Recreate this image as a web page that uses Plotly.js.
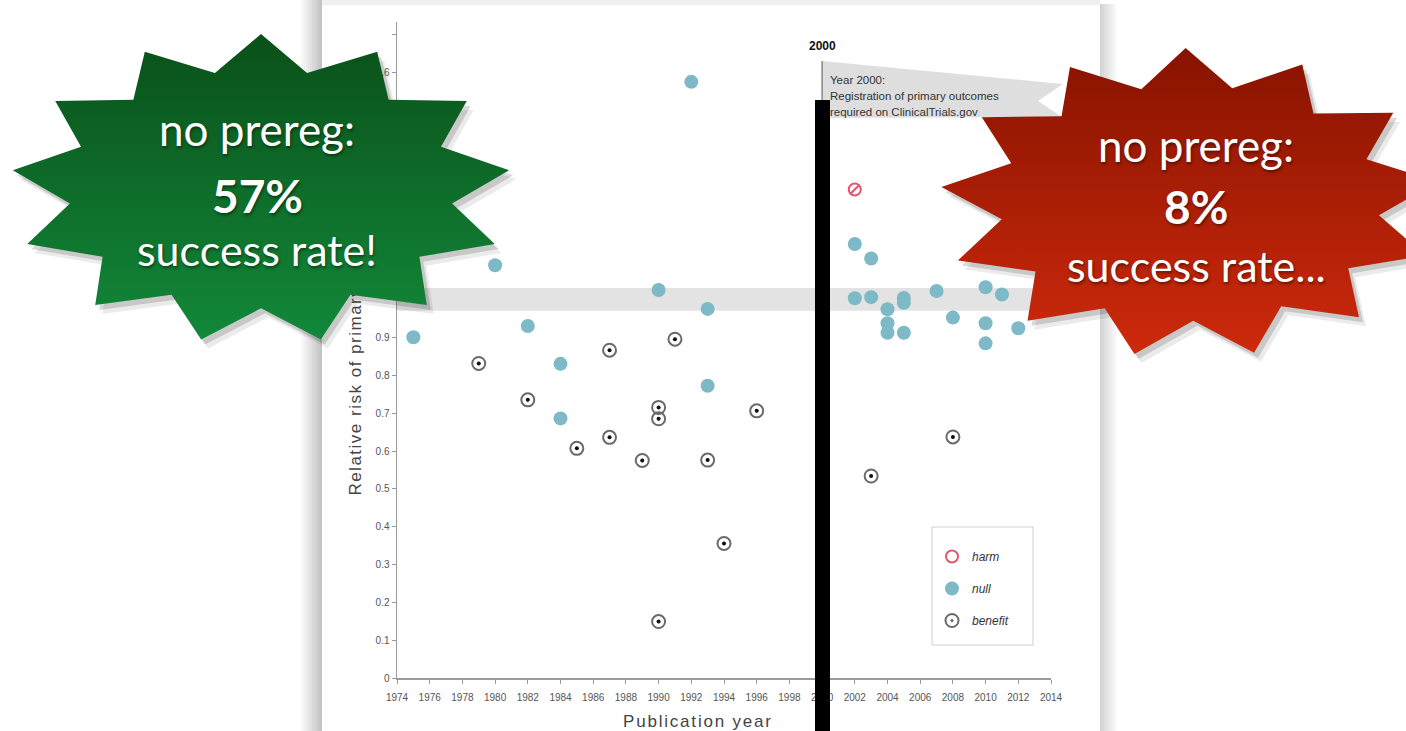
<!DOCTYPE html>
<html><head><meta charset="utf-8">
<script src="https://cdn.plot.ly/plotly-3.0.1.min.js"></script>
<style>
html,body{margin:0;padding:0;background:#fff;}
#wrap{position:relative;width:1406px;height:731px;overflow:hidden;background:#fff;}
#chart,#overlay{position:absolute;left:0;top:0;width:1406px;height:731px;}
#overlay{pointer-events:none;}
</style></head><body>
<div id="wrap"><div id="chart"></div><div id="overlay"></div></div>
<script>
// ---------------- data ----------------
const seriesNames = ['harm', 'null', 'benefit'];
const harmYears = [2002];
const harmRR = [1.29];
const nullYears = [1975, 1980, 1982, 1984, 1984, 1990, 1992, 1993, 1993,
                   2002, 2002, 2003, 2003, 2004, 2004, 2004, 2005, 2005, 2005,
                   2007, 2008, 2010, 2010, 2010, 2011, 2012];
const nullRR = [0.90, 1.09, 0.93, 0.83, 0.686, 1.025, 1.574, 0.975, 0.772,
                1.146, 1.003, 1.108, 1.006, 0.974, 0.937, 0.912, 1.004, 0.991, 0.912,
                1.022, 0.952, 1.032, 0.937, 0.884, 1.013, 0.924];
const benefitYears = [1979, 1982, 1985, 1987, 1987, 1989, 1990, 1990, 1990,
                      1991, 1993, 1994, 1996, 2003, 2008];
const benefitRR = [0.831, 0.735, 0.607, 0.866, 0.636, 0.575, 0.715, 0.685, 0.150,
                   0.895, 0.576, 0.356, 0.706, 0.534, 0.637];
const bandRange = [0.97, 1.03];
const registrationYear = 2000;
const yearRange = [1974, 2014];
// labels 1 – 1.5 and 1.7 are hidden behind the green badge in the reference
const yTickVals = [0, 0.1, 0.2, 0.3, 0.4, 0.5, 0.6, 0.7, 0.8, 0.9, 1, 1.1, 1.2, 1.3, 1.4, 1.5, 1.6, 1.7];
const yTickText = ['0', '0.1', '0.2', '0.3', '0.4', '0.5', '0.6', '0.7', '0.8', '0.9', '', '', '', '', '', '', '1.6', ''];
const flagTitle = '2000';
const flagLines = ['Year 2000:', 'Registration of primary outcomes', 'required on ClinicalTrials.gov'];
const xTitle = 'Publication year';
const yTitle = 'Relative risk of primary outcome';
const leftBadge = ['no prereg:', '57%', 'success rate!'];
const rightBadge = ['no prereg:', '8%', 'success rate...'];

// ---------------- geometry ----------------
const W = 1406, H = 731;
const X0 = 397, X1 = 1051, Y0 = 678.4, YT = 22;
const YMAX = (Y0 - YT) / 379;
const px = x => x / W;
const py = y => 1 - y / H;
const FONT = '"Liberation Sans", Arial, sans-serif';

// sheet shadows
const shapes = [];
for (let i = 0; i < 11; i++) {
  shapes.push({type:'rect', xref:'paper', yref:'paper', x0:px(300+2*i), x1:px(302+2*i), y0:0, y1:1,
    fillcolor:`rgba(0,0,0,${(0.012+0.022*i).toFixed(3)})`, line:{width:0}, layer:'below'});
}
for (let i = 0; i < 8; i++) {
  shapes.push({type:'rect', xref:'paper', yref:'paper', x0:px(1100+2*i), x1:px(1102+2*i), y0:0, y1:py(4),
    fillcolor:`rgba(0,0,0,${(0.17-0.02*i).toFixed(3)})`, line:{width:0}, layer:'below'});
}
shapes.push({type:'rect', xref:'paper', yref:'paper', x0:px(322), x1:px(1100), y0:py(5), y1:1,
  fillcolor:'rgba(0,0,0,0.06)', line:{width:0}, layer:'below'});
// null band
shapes.push({type:'rect', xref:'x domain', yref:'y', x0:0, x1:1, y0:bandRange[0], y1:bandRange[1],
  fillcolor:'#e3e3e3', line:{width:0}, layer:'below'});
// flag
const fp = [[822,61],[1063,84],[1038,101],[1062,117],[822,118]];
shapes.push({type:'path', xref:'paper', yref:'paper',
  path:'M ' + fp.map(p => px(p[0]).toFixed(5) + ',' + py(p[1]).toFixed(5)).join(' L ') + ' Z',
  fillcolor:'#dedede', line:{width:0}, layer:'below'});
// 2000 line
shapes.push({type:'line', xref:'x', yref:'paper', x0:registrationYear, x1:registrationYear,
  y0:py(Y0), y1:py(61), line:{color:'#8a8a8a', width:1.5}});
// legend box
shapes.push({type:'rect', xref:'paper', yref:'paper', x0:px(932), x1:px(1033), y0:py(645), y1:py(527),
  fillcolor:'#fff', line:{color:'#d0d0d0', width:1}, layer:'above'});

const annotations = [
  {text:'<b>' + flagTitle + '</b>', xref:'x', x:registrationYear, yref:'paper', y:py(46), yanchor:'middle',
   showarrow:false, font:{family:FONT, size:12, color:'#111'}},
  {text:'<span style="letter-spacing:1.8px">' + xTitle + '</span>', xref:'paper', x:px(698), yref:'paper', y:py(721),
   yanchor:'middle', showarrow:false, font:{family:FONT, size:17, color:'#444'}}
];
flagLines.forEach((t, i) => annotations.push({text:t, xref:'paper', x:px(828), xanchor:'left',
  yref:'paper', y:py(80 + 16*i), yanchor:'middle', showarrow:false, font:{family:FONT, size:11.5, color:'#333'}}));

const traces = [
  {type:'scatter', mode:'markers', x:harmYears, y:harmRR, name:'<i>' + seriesNames[0] + '</i>',
   legendgroup:'harm', marker:{symbol:'circle-open', size:12, color:'#e0576b', line:{width:2, color:'#e0576b'}}},
  {type:'scatter', mode:'markers', x:harmYears, y:harmRR, showlegend:false, legendgroup:'harm',
   marker:{symbol:'line-ne', size:9, color:'#e0576b', line:{width:2, color:'#e0576b'}}},
  {type:'scatter', mode:'markers', x:nullYears, y:nullRR, name:'<i>' + seriesNames[1] + '</i>',
   legendgroup:'null', marker:{symbol:'circle', size:14, color:'#7db9c6', line:{width:0}}},
  {type:'scatter', mode:'markers', x:benefitYears, y:benefitRR, name:'<i>' + seriesNames[2] + '</i>',
   legendgroup:'benefit', marker:{symbol:'circle-open-dot', size:13, color:'#6a6a6a', line:{width:2, color:'#6a6a6a'}}},
  {type:'scatter', mode:'markers', x:benefitYears, y:benefitRR, showlegend:false, legendgroup:'benefit',
   marker:{symbol:'circle', size:4, color:'#111'}}
];

const axisBase = {showgrid:false, zeroline:false, showline:true, linecolor:'#9a9a9a', linewidth:1.5,
  ticks:'outside', ticklen:4, tickcolor:'#9a9a9a', tickfont:{family:FONT, size:10, color:'#555'}};

const layout = {
  width:W, height:H, margin:{l:0, r:0, t:0, b:0},
  paper_bgcolor:'#fff', plot_bgcolor:'rgba(0,0,0,0)',
  xaxis:Object.assign({}, axisBase, {domain:[px(X0), px(X1)], range:yearRange, tick0:1974, dtick:2,
    ticklabelstandoff:5}),
  yaxis:Object.assign({}, axisBase, {domain:[py(Y0), py(YT)], range:[0, YMAX],
    tickmode:'array', tickvals:yTickVals, ticktext:yTickText,
    title:{text:'<span style="letter-spacing:1.5px">' + yTitle + '</span>', font:{family:FONT, size:17, color:'#444'}, standoff:9}}),
  shapes:shapes, annotations:annotations,
  showlegend:true,
  legend:{x:px(932), y:py(542), xanchor:'left', yanchor:'top', bgcolor:'rgba(0,0,0,0)',
    borderwidth:0, font:{family:FONT, size:12, color:'#333'}, traceorder:'grouped', tracegroupgap:13},
  hovermode:false
};
Plotly.newPlot('chart', traces, layout, {staticPlot:true, displayModeBar:false});

// ---------------- overlay: badges & bar ----------------
function star(cx, cy, rx, ry, n, inner, rotDeg) {
  const xs = [], ys = [];
  for (let i = 0; i <= 2*n; i++) {
    const a = (rotDeg * Math.PI / 180) + i * Math.PI / n;
    const r = (i % 2) ? inner : 1;
    xs.push(cx + rx * r * Math.cos(a));
    ys.push(cy - ry * r * Math.sin(a));
  }
  return {xs, ys};
}
const g = star(261, 189, 250, 155, 13, 0.77, 90);
const r = star(1190, 203, 250, 155, 13, 0.76, 91);
function shadow(s, dx, dy, a) {
  return {type:'scatter', mode:'none', fill:'toself', x:s.xs.map(v => v+dx), y:s.ys.map(v => v+dy),
    fillcolor:`rgba(0,0,0,${a})`, hoverinfo:'skip'};
}
const otraces = [
  shadow(g, 7, 9, 0.08), shadow(g, 4, 5, 0.15),
  {type:'scatter', mode:'none', fill:'toself', x:g.xs, y:g.ys, fillcolor:'#0e7028',
   fillgradient:{type:'vertical', start:344, stop:34, colorscale:[[0,'#12893a'],[1,'#0a5019']]}},
  shadow(r, 7, 9, 0.08), shadow(r, 4, 5, 0.15),
  {type:'scatter', mode:'none', fill:'toself', x:r.xs, y:r.ys, fillcolor:'#a81a05',
   fillgradient:{type:'vertical', start:360, stop:48, colorscale:[[0,'#cf2a0c'],[1,'#871300']]}}
];
const BF = 'Lato, "Noto Sans", sans-serif';
const sh = '1px 2px 3px rgba(0,0,0,0.45)';
function badgeText(lines, cx, ys, sizes) {
  return lines.map((t, i) => ({text: i === 1 ? '<b>' + t + '</b>' : t, x:cx, y:ys[i], xref:'x', yref:'y',
    yanchor:'middle', showarrow:false, font:{family:BF, size:sizes[i], color:'#fff', shadow:sh}}));
}
const oann = [].concat(
  badgeText(leftBadge, 257, [129, 195, 249], [44, 46, 43]),
  badgeText(rightBadge, 1196, [145, 206, 265], [44, 46, 43])
);
const olayout = {
  width:W, height:H, margin:{l:0, r:0, t:0, b:0},
  paper_bgcolor:'rgba(0,0,0,0)', plot_bgcolor:'rgba(0,0,0,0)', showlegend:false,
  xaxis:{range:[0, W], visible:false, domain:[0,1]},
  yaxis:{range:[H, 0], visible:false, domain:[0,1]},
  shapes:[{type:'rect', xref:'x', yref:'y', x0:815, x1:830, y0:100, y1:H+5, fillcolor:'#000', line:{width:0}}],
  annotations:oann, hovermode:false
};
Plotly.newPlot('overlay', otraces, olayout, {staticPlot:true, displayModeBar:false});
</script>
</body></html>
